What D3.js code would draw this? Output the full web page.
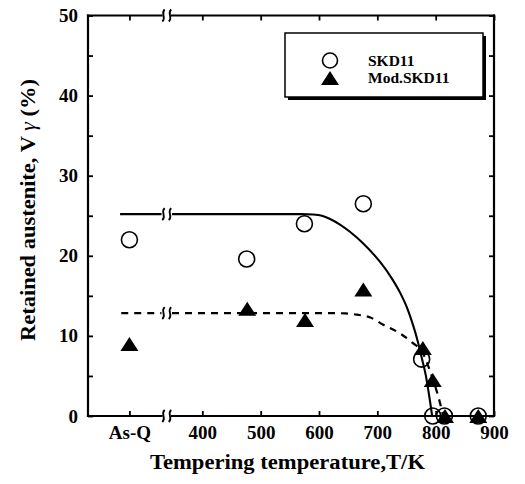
<!DOCTYPE html>
<html>
<head>
<meta charset="utf-8">
<script src="https://cdn.jsdelivr.net/npm/d3@7"></script>
<style>
  html, body { margin: 0; padding: 0; background: #fff; }
  svg { display: block; }
  text { font-family: "Liberation Serif", "Times New Roman", serif; font-weight: bold; fill: #000; }
</style>
</head>
<body>
<svg id="chart" width="525" height="484"></svg>
<script>
// ---------------- data ----------------
const ASQ = 275;                       // axis position used for the "As-Q" category
const xTickValues = [ASQ, 400, 500, 600, 700, 800, 900];
const xTickLabels = ["As-Q", "400", "500", "600", "700", "800", "900"];
const yTickValues = [0, 5, 10, 15, 20, 25, 30, 35, 40, 45, 50];
const yTickLabels = ["0", "", "10", "", "20", "", "30", "", "40", "", "50"];

const skd11T = [ASQ, 476, 575, 676, 776, 795, 815, 873];
const skd11V = [22.0, 19.6, 24.0, 26.5, 7.1, 0, 0, 0];

const modT = [ASQ, 477, 576, 676, 778, 795, 816, 873];
const modV = [9.0, 13.4, 12.0, 15.8, 8.5, 4.5, 0, 0];

// fitted curves
const solidT = [259, 330, 348, 570, 590, 605, 619, 636, 653, 675, 705, 722, 739, 751, 761, 769, 775, 783, 790, 794];
const solidV = [25.2, 25.2, 25.2, 25.2, 25.15, 25.0, 24.6, 23.9, 23.0, 21.6, 19.2, 17.5, 15.4, 13.5, 11.4, 9.4, 7.6, 5.1, 2.0, 0];
const dashT = [261, 330, 348, 620, 645, 665, 688, 710, 739, 761, 777, 787, 796, 805, 813];
const dashV = [12.85, 12.85, 12.85, 12.85, 12.8, 12.65, 12.3, 11.4, 10.3, 9.1, 8.0, 6.3, 4.4, 2.3, 0];

const breakT = [330, 348];             // axis break interval
const legendLabels = ["SKD11", "Mod.SKD11"];

// ---------------- layout ----------------
const svg = d3.select("#chart");
const x = d3.scaleLinear().domain([204, 900]).range([88, 494]);
const y = d3.scaleLinear().domain([0, 50]).range([416, 15.5]);
const X0 = x.range()[0], X1 = x.range()[1], Y0 = y.range()[0], Y1 = y.range()[1];
const bx0 = x(breakT[0]), bx1 = x(breakT[1]);

// squiggle (break) mark
function squiggle(cx, cy, h) {
  return `M${cx + 1.2},${cy - h} C${cx - 3.5},${cy - h * 0.3} ${cx + 3.5},${cy + h * 0.3} ${cx - 1.2},${cy + h}`;
}

// ---------------- axes ----------------
const axW = 2.2;
const xb = svg.append("g").attr("transform", `translate(0,${Y0})`)
  .call(d3.axisBottom(x).tickValues(xTickValues)
    .tickFormat((d, i) => xTickLabels[i]).tickSizeInner(-5).tickSizeOuter(0).tickPadding(10));
const xt = svg.append("g").attr("transform", `translate(0,${Y1})`)
  .call(d3.axisTop(x).tickValues(xTickValues).tickFormat("").tickSizeInner(-5).tickSizeOuter(0));
const yl = svg.append("g").attr("transform", `translate(${X0},0)`)
  .call(d3.axisLeft(y).tickValues(yTickValues)
    .tickFormat((d, i) => yTickLabels[i]).tickSizeInner(-5).tickSizeOuter(0).tickPadding(10));
const yr = svg.append("g").attr("transform", `translate(${X1},0)`)
  .call(d3.axisRight(y).tickValues(yTickValues).tickFormat("").tickSizeInner(-5).tickSizeOuter(0));

[xb, xt, yl, yr].forEach(g => {
  g.select(".domain").remove();
  g.selectAll(".tick line").attr("stroke", "#000").attr("stroke-width", 1.8);
  g.selectAll(".tick text").style("font-size", "19px").attr("fill", "#000");
});
xb.selectAll(".tick text").attr("font-family", null);
yl.selectAll(".tick text").attr("font-family", null);

// frame with breaks on top & bottom
const frame = svg.append("g").attr("stroke", "#000").attr("stroke-width", axW).attr("fill", "none")
  .attr("stroke-linecap", "square");
frame.append("line").attr("x1", X0).attr("y1", Y0).attr("x2", X0).attr("y2", Y1);
frame.append("line").attr("x1", X1).attr("y1", Y0).attr("x2", X1).attr("y2", Y1);
[Y0, Y1].forEach(yy => {
  frame.append("line").attr("x1", X0).attr("y1", yy).attr("x2", bx0).attr("y2", yy);
  frame.append("line").attr("x1", bx1).attr("y1", yy).attr("x2", X1).attr("y2", yy);
});
const sq = svg.append("g").attr("stroke", "#000").attr("stroke-width", 1.8).attr("fill", "none");
[Y0, Y1].forEach(yy => {
  sq.append("path").attr("d", squiggle(bx0 + 2, yy, 6));
  sq.append("path").attr("d", squiggle(bx1 - 2, yy, 6));
});

// axis titles
svg.append("text")
  .attr("x", 287.5).attr("y", 469).attr("text-anchor", "middle")
  .style("font-size", "20px")
  .attr("textLength", 275).attr("lengthAdjust", "spacingAndGlyphs")
  .text("Tempering temperature,T/K");

const yt = svg.append("text")
  .attr("transform", "translate(35,210) rotate(-90)")
  .attr("text-anchor", "middle")
  .style("font-size", "20px")
  .attr("textLength", 262).attr("lengthAdjust", "spacingAndGlyphs");
yt.append("tspan").text("Retained austenite, V ");
yt.append("tspan").style("font-style", "italic").style("font-weight", "normal").text("γ");
yt.append("tspan").text(" (%)");

// ---------------- curves ----------------
function segments(T, V) {
  const pts = T.map((t, i) => [t, V[i]]);
  return [pts.filter(p => p[0] <= breakT[0]), pts.filter(p => p[0] >= breakT[1])];
}
const line = d3.line().x(d => x(d[0])).y(d => y(d[1])).curve(d3.curveMonotoneX);

segments(solidT, solidV).forEach(seg => {
  svg.append("path").attr("d", line(seg)).attr("fill", "none")
    .attr("stroke", "#000").attr("stroke-width", 2.1);
});
segments(dashT, dashV).forEach(seg => {
  svg.append("path").attr("d", line(seg)).attr("fill", "none")
    .attr("stroke", "#000").attr("stroke-width", 2.2).attr("stroke-dasharray", "7,6");
});
// break marks on the curves
[solidV[0], dashV[0]].forEach(v => {
  sq.append("path").attr("d", squiggle(bx0 + 2, y(v), 6));
  sq.append("path").attr("d", squiggle(bx1 - 2, y(v), 6));
});

// ---------------- markers ----------------
const triPath = "M0,-7L9,7L-9,7Z";
svg.append("g").selectAll("circle").data(skd11T.map((t, i) => [t, skd11V[i]]))
  .join("circle")
  .attr("cx", d => x(d[0])).attr("cy", d => y(d[1])).attr("r", 8)
  .attr("fill", "none").attr("stroke", "#000").attr("stroke-width", 1.6);
svg.append("g").selectAll("path").data(modT.map((t, i) => [t, modV[i]]))
  .join("path")
  .attr("d", triPath)
  .attr("transform", d => `translate(${x(d[0])},${y(d[1])})`)
  .attr("fill", "#000");

// ---------------- legend ----------------
const lg = svg.append("g");
lg.append("rect").attr("x", 288).attr("y", 36).attr("width", 198).attr("height", 64).attr("fill", "#000");
lg.append("rect").attr("x", 285).attr("y", 33).attr("width", 198).attr("height", 64)
  .attr("fill", "#fff").attr("stroke", "#000").attr("stroke-width", 1.5);
lg.append("circle").attr("cx", 330).attr("cy", 60.5).attr("r", 7.5)
  .attr("fill", "none").attr("stroke", "#000").attr("stroke-width", 1.6);
lg.append("path").attr("d", triPath).attr("transform", "translate(330,78)").attr("fill", "#000");
lg.selectAll("text.leg").data(legendLabels).join("text").attr("class", "leg")
  .attr("x", 368).attr("y", (d, i) => 65.5 + i * 17.5)
  .style("font-size", "15.5px").text(d => d);
</script>
</body>
</html>
